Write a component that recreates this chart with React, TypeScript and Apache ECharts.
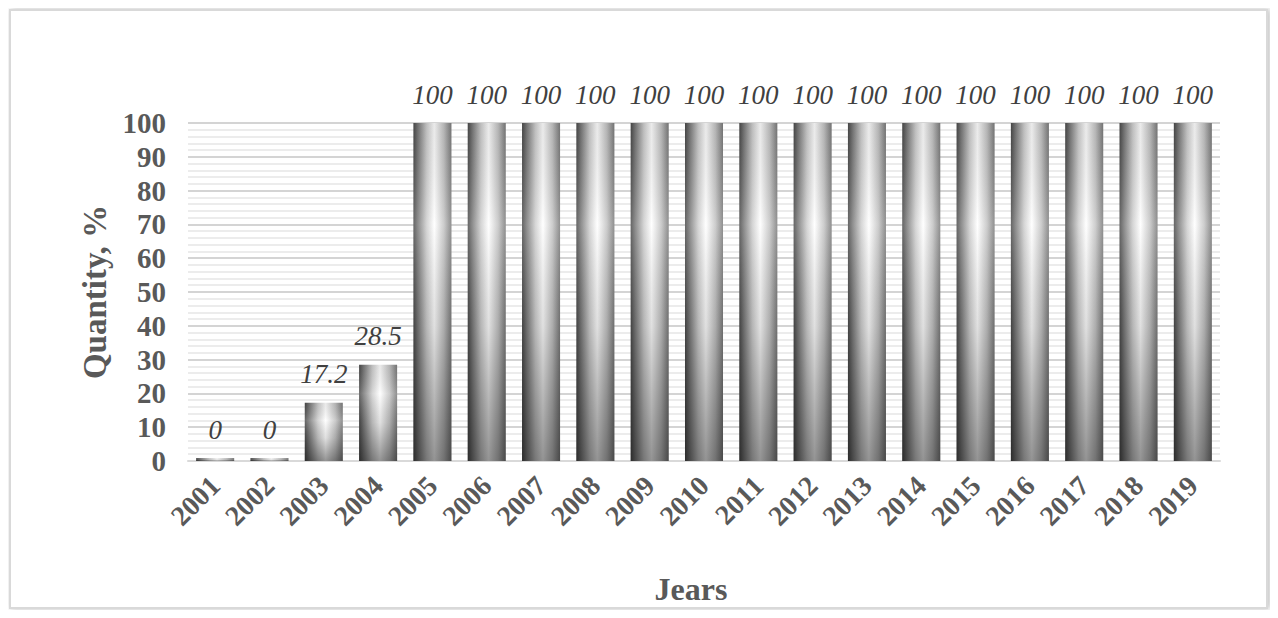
import React, { useEffect, useRef } from "react";
import * as echarts from "echarts";

const years = ["2001","2002","2003","2004","2005","2006","2007","2008","2009","2010","2011","2012","2013","2014","2015","2016","2017","2018","2019"];
const quantity = [0, 0, 17.2, 28.5, 100, 100, 100, 100, 100, 100, 100, 100, 100, 100, 100, 100, 100, 100, 100];
const yTicks = [0, 10, 20, 30, 40, 50, 60, 70, 80, 90, 100];

const FONT = '"Liberation Serif", "Times New Roman", serif';

export default function App() {
  const ref = useRef<HTMLDivElement>(null);
  useEffect(() => {
    if (!ref.current) return;
    const chart = echarts.init(ref.current, null, { renderer: "svg" });
    const barColor = new echarts.graphic.LinearGradient(0, 0, 1, 0, [
      { offset: 0, color: "#4a4a4a" },
      { offset: 0.12, color: "#7a7a7a" },
      { offset: 0.35, color: "#cfcfcf" },
      { offset: 0.55, color: "#ffffff" },
      { offset: 0.8, color: "#c4c4c4" },
      { offset: 1, color: "#7c7c7c" },
    ]);
    const shadeColor = new echarts.graphic.LinearGradient(0, 0, 0, 1, [
      { offset: 0, color: "rgba(0,0,0,0.08)" },
      { offset: 0.3, color: "rgba(255,255,255,0.15)" },
      { offset: 0.6, color: "rgba(0,0,0,0.12)" },
      { offset: 1, color: "rgba(0,0,0,0.42)" },
    ]);
    chart.setOption({
      animation: false,
      backgroundColor: "#ffffff",
      graphic: [
        {
          type: "rect",
          shape: { x: 2, y: 2, width: 1257, height: 598 },
          style: { fill: "#ffffff", stroke: "#d9d9d9", lineWidth: 2, shadowBlur: 6, shadowColor: "rgba(0,0,0,0.25)", shadowOffsetX: 2, shadowOffsetY: 0 },
          z: -10,
          silent: true,
        },
      ],
      grid: { left: 180, right: 50, top: 115, bottom: 149, containLabel: false },
      xAxis: {
        type: "category",
        data: years,
        name: "Jears",
        nameLocation: "middle",
        nameGap: 112,
        nameTextStyle: { fontFamily: FONT, fontWeight: "bold", fontSize: 32, color: "#595959", padding: [0, 26, 0, 0] },
        axisLine: { show: true, lineStyle: { color: "#d9d9d9", width: 2 } },
        axisTick: { show: false },
        axisLabel: {
          rotate: 45,
          interval: 0,
          margin: 20,
          fontFamily: FONT,
          fontWeight: "bold",
          fontSize: 28,
          color: "#595959",
        },
      },
      yAxis: {
        type: "value",
        min: 0,
        max: 100,
        interval: 10,
        name: "Quantity, %",
        nameLocation: "middle",
        nameGap: 76,
        nameTextStyle: { fontFamily: FONT, fontWeight: "bold", fontSize: 33, color: "#595959" },
        axisLine: { show: false },
        axisTick: { show: false },
        axisLabel: {
          margin: 22,
          fontFamily: FONT,
          fontWeight: "bold",
          fontSize: 29,
          color: "#595959",
          formatter: (v: number) => (yTicks.includes(v) ? String(v) : ""),
        },
        splitLine: { show: true, lineStyle: { color: "#d4d4d4", width: 2 } },
        minorTick: { show: false, splitNumber: 5 },
        minorSplitLine: { show: true, lineStyle: { color: "#e6e6e6", width: 1.5 } },
      },
      series: [
        {
          type: "bar",
          data: quantity,
          barCategoryGap: "30%",
          barMinHeight: 3,
          itemStyle: { color: barColor },
          label: {
            show: true,
            position: "top",
            distance: 15,
            fontFamily: FONT,
            fontStyle: "italic",
            fontSize: 27,
            color: "#404040",
          },
        },
        {
          type: "bar",
          data: quantity,
          barGap: "-100%",
          barCategoryGap: "30%",
          barMinHeight: 3,
          silent: true,
          itemStyle: { color: shadeColor },
          label: { show: false },
        },
      ],
    });
    return () => chart.dispose();
  }, []);
  return <div ref={ref} style={{ width: 1262, height: 602 }} />;
}
